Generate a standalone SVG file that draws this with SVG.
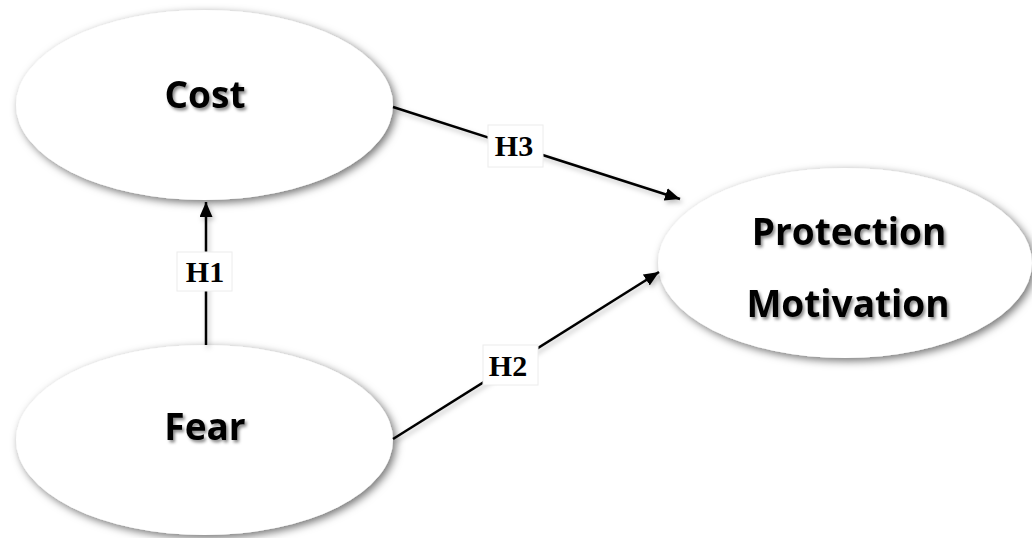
<svg xmlns="http://www.w3.org/2000/svg" width="1032" height="538" viewBox="0 0 1032 538">
<style>
.node ellipse{fill:#ffffff;filter:url(#shadow)}
.ntext{font-family:"Open Sans","Liberation Sans",sans-serif;font-weight:bold;font-size:37px;fill:#000;text-anchor:middle;filter:url(#tshadow)}
.conn line{stroke:#000;stroke-width:2.5;marker-end:url(#arrow)}
.lbox{fill:#ffffff;stroke:#ececec;stroke-width:1}
.ltext{font-family:"Liberation Serif","Times New Roman",serif;font-weight:bold;font-size:30px;fill:#000;text-anchor:middle}
</style>
<defs>
<filter id="shadow" x="-10%" y="-15%" width="125%" height="135%">
<feDropShadow dx="3" dy="3" stdDeviation="4" flood-color="#000" flood-opacity="0.55"/>
</filter>
<filter id="tshadow" x="-10%" y="-20%" width="130%" height="150%">
<feDropShadow dx="2" dy="2.5" stdDeviation="1.5" flood-color="#000" flood-opacity="0.45"/>
</filter>
<filter id="lshadow" x="-10%" y="-30%" width="130%" height="160%">
<feDropShadow dx="2" dy="3" stdDeviation="2.5" flood-color="#000" flood-opacity="0.25"/>
</filter>
<marker id="arrow" markerUnits="userSpaceOnUse" markerWidth="16" markerHeight="14" refX="15" refY="6.5" orient="auto">
<path d="M0,0 L15,6.5 L0,13 z" fill="#000"/>
</marker>
</defs>
<g id="cost" class="node">
<ellipse cx="204.5" cy="105" rx="188.5" ry="95"/>
<text class="ntext" x="205" y="108">Cost</text>
</g>
<g id="fear" class="node">
<ellipse cx="204.5" cy="440" rx="188.5" ry="95"/>
<text class="ntext" x="205" y="440">Fear</text>
</g>
<g id="protection-motivation" class="node">
<ellipse cx="845" cy="263" rx="187" ry="95"/>
<text class="ntext" x="849" y="245">Protection</text>
<text class="ntext" x="848" y="317">Motivation</text>
</g>
<g id="connectors">
<g class="conn" filter="url(#lshadow)">
<line x1="206" y1="345" x2="206" y2="202"/>
<line x1="393" y1="107" x2="680" y2="199"/>
<line x1="393" y1="439" x2="659" y2="272"/>
</g>
<g id="label-h1">
<rect class="lbox" x="177" y="252" width="55" height="39"/>
<text class="ltext" x="205" y="282">H1</text>
</g>
<g id="label-h3">
<rect class="lbox" x="488" y="125" width="55" height="42"/>
<text class="ltext" x="514" y="156">H3</text>
</g>
<g id="label-h2">
<rect class="lbox" x="483" y="345" width="55" height="40"/>
<text class="ltext" x="508" y="376">H2</text>
</g>
</g>
</svg>
